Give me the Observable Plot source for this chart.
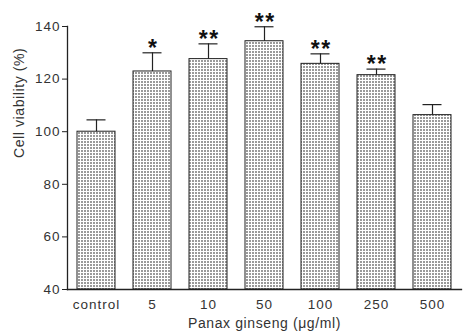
<!DOCTYPE html>
<html>
<head>
<meta charset="utf-8">
<script src="https://cdn.jsdelivr.net/npm/d3@7"></script>
<script src="https://cdn.jsdelivr.net/npm/@observablehq/plot@0.6"></script>
<style>
  html, body { margin: 0; padding: 0; background: #fff; }
  .ticklbl text { letter-spacing: 1px; }
  .axtitle text { letter-spacing: 0.6px; }
  .stars text { letter-spacing: 1.5px; }
</style>
</head>
<body>
<div id="chart"></div>
<script>
const categories = ["control", "5", "10", "50", "100", "250", "500"];
const means = [100, 122.9, 127.6, 134.4, 125.8, 121.5, 106.3];
const errors = [4.5, 7.1, 5.8, 5.5, 3.8, 2.3, 4.0];
const stars = ["", "*", "**", "**", "**", "**", ""];
const yTicks = [40, 60, 80, 100, 120, 140];
const yDomain = [40, 140];
const xLabel = "Panax ginseng (\u03BCg/ml)";
const yLabel = "Cell viability (%)";

const data = categories.map((c, i) => ({
  cat: c, mean: means[i], err: errors[i], top: means[i] + errors[i], star: stars[i], base: yDomain[0]
}));

const font = "'Liberation Sans', Arial, sans-serif";

const chart = Plot.plot({
  width: 464,
  height: 333,
  marginLeft: 67,
  marginRight: 3,
  marginTop: 26,
  marginBottom: 44,
  style: { fontFamily: font, fontSize: "13px", color: "#333", background: "#fff", overflow: "visible" },
  x: { domain: categories, padding: 0, label: null, axis: null },
  y: { domain: yDomain, label: null, axis: null },
  marks: [
    Plot.barY(data, { x: "cat", y1: "base", y2: "mean", insetLeft: 9, insetRight: 9, fill: "url(#dots)", stroke: "#222", strokeWidth: 1 }),
    Plot.ruleX(data, { x: "cat", y1: "mean", y2: "top", stroke: "#222", strokeWidth: 1.2 }),
    Plot.tickY(data, { x: "cat", y: "top", insetLeft: 18.5, insetRight: 18.5, stroke: "#222", strokeWidth: 1.2 }),
    Plot.text(data, { x: "cat", y: "top", text: "star", lineAnchor: "bottom", dx: 0.75, dy: 3, fontSize: 23, fontWeight: "bold", fill: "#111", className: "stars" }),
    Plot.axisY({ ticks: yTicks, tickSize: 5, tickPadding: 2, label: null, stroke: "#222", tickFormat: d => String(d), fontSize: 13.5, className: "ticklbl" }),
    Plot.axisX({ tickSize: 0, tickPadding: 10, label: null, fontSize: 13.5, className: "ticklbl" }),
    Plot.frame({ anchor: "left", stroke: "#222", strokeWidth: 1.3 }),
    Plot.frame({ anchor: "bottom", stroke: "#222", strokeWidth: 1.3 }),
    Plot.text([yLabel], { frameAnchor: "left", rotate: -90, dx: -48, fontSize: 14, fill: "#333", className: "axtitle" }),
    Plot.text([xLabel], { frameAnchor: "bottom", lineAnchor: "bottom", dy: 38, fontSize: 14, fill: "#333", className: "axtitle" })
  ]
});

// dotted fill pattern
const ns = "http://www.w3.org/2000/svg";
const defs = document.createElementNS(ns, "defs");
const pat = document.createElementNS(ns, "pattern");
pat.setAttribute("id", "dots");
pat.setAttribute("patternUnits", "userSpaceOnUse");
pat.setAttribute("width", "3");
pat.setAttribute("height", "3");
const bg = document.createElementNS(ns, "rect");
bg.setAttribute("width", "3"); bg.setAttribute("height", "3"); bg.setAttribute("fill", "#fff");
const dot = document.createElementNS(ns, "rect");
dot.setAttribute("width", "2"); dot.setAttribute("height", "2"); dot.setAttribute("fill", "#9a9a9a");
pat.appendChild(bg); pat.appendChild(dot);
defs.appendChild(pat);
chart.insertBefore(defs, chart.firstChild);

document.getElementById("chart").appendChild(chart);
</script>
</body>
</html>
